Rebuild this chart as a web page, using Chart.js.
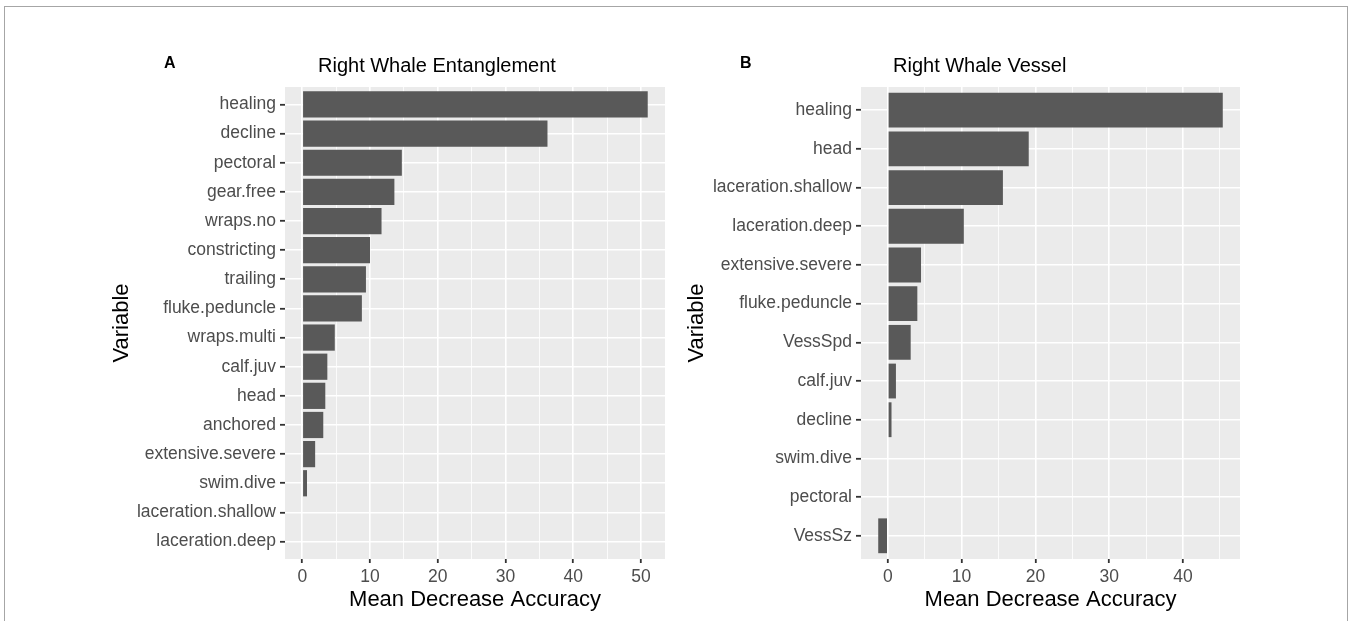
<!DOCTYPE html>
<html>
<head>
<meta charset="utf-8">
<script src="https://cdn.jsdelivr.net/npm/chart.js@4.4.1/dist/chart.umd.min.js"></script>
<style>
  body { margin:0; background:#fff; width:1351px; height:621px; overflow:hidden; position:relative;
         font-family:"Liberation Sans", Arial, sans-serif; }
  .frame { position:absolute; left:4px; top:6px; width:1342px; height:660px; border:1px solid #a6a6a6; }
  .box { position:absolute; top:0; height:621px; }
  .tag { position:absolute; font-weight:bold; font-size:16px; line-height:16px; color:#000; }
  .ttl { position:absolute; font-size:20px; line-height:20px; color:#000; white-space:nowrap; }
</style>
</head>
<body>
<div class="frame"></div>
<div class="box" style="left:0;width:680px"><canvas id="chartA"></canvas></div>
<div class="box" style="left:680px;width:671px"><canvas id="chartB"></canvas></div>
<div class="tag" style="left:164px;top:55px">A</div>
<div class="ttl" style="left:318px;top:55px">Right Whale Entanglement</div>
<div class="tag" style="left:740px;top:55px">B</div>
<div class="ttl" style="left:893px;top:55px">Right Whale Vessel</div>

<script>
// panel A - entanglement
const catsA = ['healing','decline','pectoral','gear.free','wraps.no','constricting','trailing',
  'fluke.peduncle','wraps.multi','calf.juv','head','anchored','extensive.severe','swim.dive',
  'laceration.shallow','laceration.deep'];
const valsA = [51.0, 36.2, 14.7, 13.6, 11.7, 10.0, 9.4, 8.8, 4.8, 3.7, 3.4, 3.1, 1.9, 0.7, 0, 0];
const ticksA = [0, 10, 20, 30, 40, 50];

// panel B - vessel
const catsB = ['healing','head','laceration.shallow','laceration.deep','extensive.severe',
  'fluke.peduncle','VessSpd','calf.juv','decline','swim.dive','pectoral','VessSz'];
const valsB = [45.4, 19.1, 15.6, 10.3, 4.5, 4.0, 3.1, 1.1, 0.5, 0, 0, -1.3];
const ticksB = [0, 10, 20, 30, 40];

const FONT = '"Liberation Sans", Arial, sans-serif';

const panelBg = {
  id: 'panelBg',
  beforeDraw(chart) {
    const a = chart.chartArea, ctx = chart.ctx;
    ctx.save();
    ctx.fillStyle = '#ebebeb';
    ctx.fillRect(a.left, a.top, a.right - a.left, a.bottom - a.top);
    ctx.restore();
  }
};

function graficar(id, cats, vals, ticks, pad, yWidth) {
  // ggplot style 5% expansion
  const lo = Math.min(0, ...vals), hi = Math.max(...vals);
  const ext = (hi - lo) * 0.05;
  // major + minor gridline positions
  const all = [];
  ticks.forEach((t, i) => {
    all.push(t);
    if (i < ticks.length - 1) all.push(t + (ticks[1] - ticks[0]) / 2);
  });
  if (ticks[ticks.length - 1] + 5 < hi + ext) all.push(ticks[ticks.length - 1] + 5);
  const isMajor = v => ticks.includes(v);

  new Chart(document.getElementById(id), {
    type: 'bar',
    data: {
      datasets: [{
        data: vals.map((v, i) => ({ x: v, y: i })),
        backgroundColor: '#595959',
        borderWidth: 0,
        barPercentage: 0.9,
        categoryPercentage: 1
      }]
    },
    options: {
      indexAxis: 'y',
      responsive: true,
      maintainAspectRatio: false,
      animation: false,
      layout: { padding: pad },
      plugins: { legend: { display: false }, tooltip: { enabled: false } },
      scales: {
        x: {
          type: 'linear',
          min: lo - ext,
          max: hi + ext,
          afterBuildTicks: s => { s.ticks = all.map(v => ({ value: v })); },
          afterFit: s => { s.height = 62; },
          ticks: {
            autoSkip: false, maxRotation: 0, padding: 4,
            color: '#4d4d4d', font: { family: FONT, size: 17.5 },
            callback: v => isMajor(v) ? String(v) : ''
          },
          grid: {
            color: '#ffffff',
            lineWidth: c => isMajor(c.tick.value) ? 1.6 : 0.8,
            tickLength: 4,
            tickWidth: 1.8,
            tickColor: c => isMajor(c.tick.value) ? '#333333' : 'rgba(0,0,0,0)'
          },
          border: { display: false },
          title: {
            display: true, text: 'Mean Decrease Accuracy', color: '#000',
            font: { family: FONT, size: 22 }, padding: { top: 0, bottom: 8 }
          }
        },
        y: {
          type: 'linear',
          reverse: true,
          offset: false,
          min: -0.6,
          max: cats.length - 0.4,
          afterBuildTicks: s => { s.ticks = cats.map((c, i) => ({ value: i })); },
          afterFit: s => { s.width = yWidth; },
          ticks: {
            autoSkip: false, padding: 4,
            color: '#4d4d4d', font: { family: FONT, size: 17.5 },
            callback: v => cats[v]
          },
          grid: { offset: false, color: '#ffffff', lineWidth: 1.6, tickLength: 5, tickWidth: 1.8, tickColor: '#333333' },
          border: { display: false },
          title: {
            display: true, text: 'Variable', color: '#000',
            font: { family: FONT, size: 22 }, padding: { top: 4, bottom: 0 }
          }
        }
      }
    },
    plugins: [panelBg]
  });
}

graficar('chartA', catsA, valsA, ticksA, { left: 105, right: 15, top: 87, bottom: 0 }, 180);
graficar('chartB', catsB, valsB, ticksB, { left: 0, right: 111, top: 87, bottom: 0 }, 181);
</script>
</body>
</html>
